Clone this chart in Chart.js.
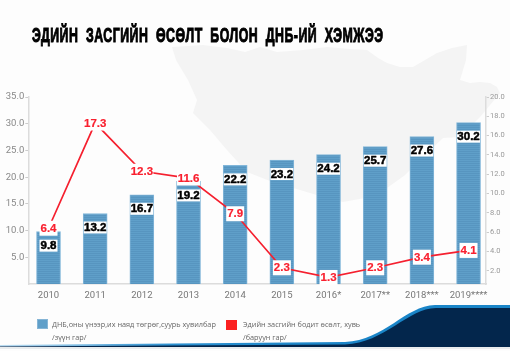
<!DOCTYPE html>
<html><head><meta charset="utf-8">
<style>
html,body{margin:0;padding:0;background:#fff;width:519px;height:351px;overflow:hidden}
#c{position:absolute;left:0;top:0}
#title{position:absolute;left:32px;top:24px;font:bold 20px "Liberation Sans Narrow","Liberation Sans",sans-serif;color:#000;-webkit-text-stroke:1px #000;white-space:nowrap;word-spacing:6px;letter-spacing:.8px;transform-origin:0 0;transform:scaleX(.617)}
.lg{position:absolute;font:7.3px/13px "Open Sans",sans-serif;color:#666;white-space:nowrap}
.sw{position:absolute;width:11px;height:10px}
</style>
<script src="https://cdn.jsdelivr.net/npm/chart.js@4"></script>
</head><body>
<canvas id="c" width="519" height="351"></canvas>
<div id="title">ЭДИЙН ЗАСГИЙН ӨСӨЛТ БОЛОН ДНБ-ИЙ ХЭМЖЭЭ</div>
<div class="sw" style="left:37px;top:319px;background:#5f9fc9;box-shadow:inset 0 0 0 1px #85b5d6"></div>
<div class="lg" style="left:52px;top:318px">ДНБ,оны үнээр,их наяд төгрөг,суурь хувилбар<br>/зүүн гар/</div>
<div class="sw" style="left:226px;top:320px;background:#fb2020"></div>
<div class="lg" style="left:243px;top:318px">Эдийн засгийн бодит өсөлт, хувь<br>/баруун гар/</div>
<script>
const years = ['2010','2011','2012','2013','2014','2015','2016*','2017**','2018***','2019****'];
const gdp = [9.8,13.2,16.7,19.2,22.2,23.2,24.2,25.7,27.6,30.2];
const growth = [6.4,17.3,12.3,11.6,7.9,2.3,1.3,2.3,3.4,4.1];
const leftTicks = [5,10,15,20,25,30,35];
const rightTicks = [2,4,6,8,10,12,14,16,18,20];

const stripe = document.createElement('canvas');
stripe.width = 4; stripe.height = 4;
{const s = stripe.getContext('2d');
 s.fillStyle = '#5f9fc9'; s.fillRect(0,0,4,4);
 s.fillStyle = '#5795c0'; s.fillRect(0,1,4,1); s.fillRect(0,3,4,1);}
const barFill = document.createElement('canvas').getContext('2d').createPattern(stripe,'repeat');

const background = {
  id:'background',
  beforeDraw(chart){
    const c = chart.ctx;
    c.save();
    c.fillStyle = '#fdfdfd'; c.fillRect(0,0,510,351);
    c.fillStyle = '#f4f4f4';
    c.beginPath();
    const map = [[172,47],[188,46],[203,45],[227,48],[245,52],[260,47],[277,52],[303,50],[327,47],[350,49],[367,50],[378,58],[387,63],[400,67],[413,67],[425,60],[437,53],[452,48],[467,45],[466,60],[460,80],[470,83],[480,82],[490,83],[497,87],[500,93],[490,105],[480,117],[470,127],[460,137],[443,138],[425,155],[405,175],[387,188],[365,198],[343,202],[320,196],[300,190],[275,183],[247,172],[227,150],[210,130],[193,113],[197,100],[188,80],[176,60]];
    map.forEach((p,i)=>i?c.lineTo(p[0],p[1]):c.moveTo(p[0],p[1]));
    c.closePath(); c.fill();
    // bottom band
    const g = c.createLinearGradient(0,0,350,0);
    g.addColorStop(0,'#bcdcf0'); g.addColorStop(.5,'#2a8fcf'); g.addColorStop(1,'#1a85c8');
    c.fillStyle = '#e9ecee'; c.fillRect(0,347,510,2);
    c.fillStyle = g;
    c.beginPath();
    c.moveTo(0,345); c.lineTo(345,342);
    c.bezierCurveTo(385,340,405,306,435,305);
    c.lineTo(510,305); c.lineTo(510,312); c.lineTo(435,312);
    c.bezierCurveTo(410,314,385,345,345,346);
    c.lineTo(0,346.5); c.closePath(); c.fill();
    c.fillStyle = '#03264c';
    c.beginPath();
    c.moveTo(0,346.5); c.lineTo(345,344.5);
    c.bezierCurveTo(385,343,408,308,436,308);
    c.lineTo(510,308); c.lineTo(510,347); c.lineTo(0,347); c.closePath(); c.fill();
    c.restore();
  }
};

const valueLabels = {
  id:'valueLabels',
  afterDatasetsDraw(chart){
    const c = chart.ctx, x = chart.scales.x, yl = chart.scales.y, yr = chart.scales.y1;
    c.save();
    c.textAlign = 'center'; c.textBaseline = 'middle';
    const put = (txt,px,py,color,w,h,stroke) => {
      c.font = 'bold 11.5px "Liberation Sans"';
      c.fillStyle = '#fff';
      c.fillRect(px-w/2,py-h/2,w,h);
      c.fillStyle = color;
      c.lineJoin = 'round';
      c.strokeStyle = color; c.lineWidth = stroke;
      c.strokeText(txt,px,py+.5);
      c.fillText(txt,px,py+.5);
    };
    gdp.forEach((v,i)=> put(v.toFixed(1),x.getPixelForValue(i),yl.getPixelForValue(v)+14,'#000',v<10?18:23,12,.5));
    growth.forEach((v,i)=> put(v.toFixed(1),x.getPixelForValue(i),yr.getPixelForValue(v),'#f9202f',v<10?18:23,15,.2));
    c.restore();
  }
};

new Chart(document.getElementById('c'),{
  data:{datasets:[
    {type:'line',label:'Эдийн засгийн бодит өсөлт, хувь',yAxisID:'y1',order:0,
     data:growth.map((v,i)=>({x:i,y:v})),borderColor:'#f5202f',borderWidth:1.7,pointRadius:0,tension:0,fill:false},
    {type:'bar',label:'ДНБ,оны үнээр,их наяд төгрөг,суурь хувилбар',yAxisID:'y',order:1,
     data:gdp.map((v,i)=>({x:i,y:v})),backgroundColor:barFill,borderColor:'#82b6d9',borderWidth:1,barThickness:24}
  ]},
  options:{
    responsive:false,animation:false,
    layout:{padding:{top:97,left:0,right:0,bottom:0}},
    plugins:{legend:{display:false},tooltip:{enabled:false}},
    scales:{
      x:{type:'linear',offset:false,min:-0.433,max:9.374,
        afterFit:s=>{s.height=67},
        afterBuildTicks:s=>{s.ticks=years.map((_,i)=>({value:i}))},
        grid:{display:false,drawTicks:false,offset:false},
        border:{color:'#dcdcdc',width:1.5},
        ticks:{autoSkip:false,maxRotation:0,padding:6,color:'#777',font:{family:'Roboto',size:9.5},callback:v=>years[v]}},
      y:{position:'left',min:0,max:35,
        afterFit:s=>{s.width=28.3},
        afterBuildTicks:s=>{s.ticks=leftTicks.map(v=>({value:v}))},
        grid:{drawOnChartArea:false,drawTicks:true,tickLength:3,color:'#ccc'},
        border:{color:'#dcdcdc',width:1.5},
        ticks:{padding:1,color:'#888',font:{family:'Roboto',size:9.5},callback:v=>v.toFixed(1)}},
      y1:{position:'right',min:0.62,max:20,
        afterFit:s=>{s.width=33},
        afterBuildTicks:s=>{s.ticks=rightTicks.map(v=>({value:v}))},
        grid:{drawOnChartArea:false,drawTicks:true,tickLength:3,color:'#ccc'},
        border:{color:'#dcdcdc',width:1.5},
        ticks:{padding:1,color:'#999',font:{family:'Roboto',size:7.5},callback:v=>v.toFixed(1)}}
    }
  },
  plugins:[background,valueLabels]
});
</script>
</body></html>
